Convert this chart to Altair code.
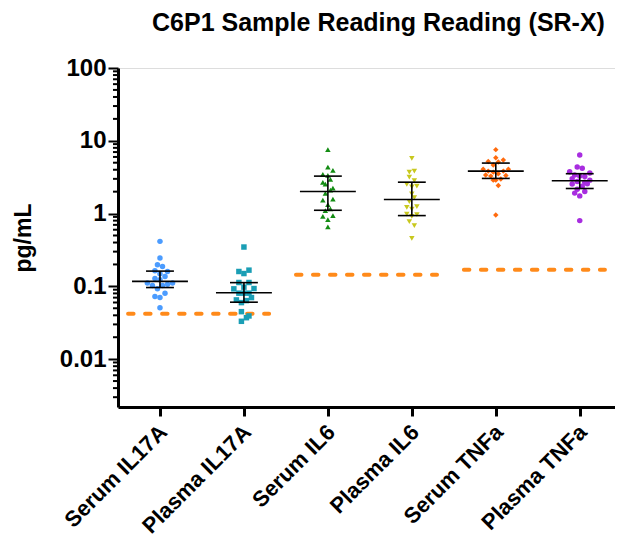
import altair as alt
import pandas as pd

groups = ["Serum IL17A", "Plasma IL17A", "Serum IL6", "Plasma IL6", "Serum TNFa", "Plasma TNFa"]
colors = ["#4b9cff", "#1a9eb5", "#138c13", "#c8c81e", "#ff6a0d", "#a82de0"]
shapes = ["circle", "square", "triangle-up", "triangle-down", "diamond", "circle"]

serum_il17a = [0.415, 0.245, 0.198, 0.1875, 0.164, 0.160, 0.149, 0.137, 0.128, 0.123,
               0.111, 0.1026, 0.1026, 0.107, 0.111, 0.0924, 0.0806, 0.0723, 0.0701, 0.051]
serum_il17a_lane = [0, 0, -1, 1, -2, 3, 0, 2, -2, 0, -5, -3, 1, 3, 5, -1, 2, -2, 0, 0]

plasma_il17a = [0.347, 0.160, 0.150, 0.167, 0.113, 0.113, 0.0924, 0.0975, 0.0933, 0.0806,
                0.0806, 0.0806, 0.0651, 0.0598, 0.0637, 0.0701, 0.0449, 0.0371, 0.0392, 0.0331]
plasma_il17a_lane = [0, -2, 0, 2, -2, 2, -4, 0, 4, -2, 0, 2, -3, -1, 1, 3, -1, 1, 2, -1]

serum_il6 = [7.56, 4.35, 3.92, 3.45, 3.34, 2.94, 2.68, 2.54, 2.23, 2.10,
             1.89, 1.53, 1.58, 1.33, 1.16, 1.10, 0.918, 0.938, 0.826, 0.655]
serum_il6_lane = [0, 0, 2, -2, 0, 1, -2, -1, 2, 1, -1, -2, 2, 0, 1, -1, -2, 2, 0, 0]

plasma_il6 = [5.74, 3.71, 3.83, 3.17, 2.83, 2.51, 2.38, 2.33, 1.87, 1.65,
              1.46, 1.22, 1.25, 1.15, 0.979, 0.969, 0.918, 0.776, 0.683, 0.457]
plasma_il6_lane = [0, -1, 1, -1, 1, -2, 2, 0, 0, 1, -1, -2, 2, 0, -2, 2, 0, -1, 1, 0]

serum_tnfa = [7.56, 5.86, 5.21, 5.43, 5.10, 4.64, 4.05, 3.83, 3.71, 3.53,
              3.83, 4.05, 3.38, 3.27, 3.34, 2.88, 2.88, 2.98, 2.43, 0.959]
serum_tnfa_lane = [0, 0, -3, 3, 1, -1, -5, -3, -1, 1, 3, 5, -4, -2, 4, -1, 0, 2, 1, 0]

plasma_tnfa = [6.38, 4.35, 4.18, 3.76, 3.60, 3.38, 3.27, 3.24, 3.01, 2.88,
               2.76, 2.70, 2.54, 2.57, 2.38, 2.16, 2.01, 1.91, 1.75, 0.80]
plasma_tnfa_lane = [0, -1, 1, -4, 4, -2, 0, 2, -3, 4, -1, 2, -3, 3, 1, -1, 2, -2, 0, 0]

means = [0.117, 0.0815, 2.01, 1.56, 3.83, 2.83]
upper = [0.162, 0.1125, 3.27, 2.70, 4.94, 3.53]
lower = [0.0963, 0.0606, 1.11, 0.938, 3.04, 2.21]

lloq_first_group = [0, 2, 4]
lloq = [0.042, 0.144, 0.169]

major_ticks = [0.01, 0.1, 1, 10, 100]
minor_ticks = [0.003, 0.004, 0.005, 0.006, 0.007, 0.008, 0.009,
               0.02, 0.03, 0.04, 0.05, 0.06, 0.07, 0.08, 0.09,
               0.2, 0.3, 0.4, 0.5, 0.6, 0.7, 0.8, 0.9,
               2, 3, 4, 5, 6, 7, 8, 9,
               20, 30, 40, 50, 60, 70, 80, 90]

series = [(serum_il17a, serum_il17a_lane), (plasma_il17a, plasma_il17a_lane),
          (serum_il6, serum_il6_lane), (plasma_il6, plasma_il6_lane),
          (serum_tnfa, serum_tnfa_lane), (plasma_tnfa, plasma_tnfa_lane)]

rows = []
for gi, (vals, lanes) in enumerate(series):
    for v, ln in zip(vals, lanes):
        rows.append({"group": groups[gi], "idx": gi, "value": v, "lane": ln})
pts = pd.DataFrame(rows)
stats = pd.DataFrame({"group": groups, "idx": list(range(6)), "mean": means,
                      "upper": upper, "lower": lower})
lq = pd.DataFrame({"start": lloq_first_group, "lloq": lloq})
minor = pd.DataFrame({"v": minor_ticks})

FONT = "Liberation Sans"
label_expr = "[" + ",".join("'%s'" % g for g in groups) + "][datum.value]"

xscale = alt.Scale(domain=[-0.5, 5.42], nice=False, zero=False)
xaxis = alt.Axis(values=list(range(6)), labelExpr=label_expr, title=None, grid=False,
                 labelAngle=-45, labelFont=FONT, labelFontSize=22, labelFontWeight="bold",
                 labelColor="black", domainColor="black", domainWidth=3, tickColor="black",
                 tickWidth=3, tickSize=9, labelPadding=5, labelOffset=-4, labelOverlap=False)
yscale = alt.Scale(type="log", domain=[0.0022, 100], nice=False)
yaxis = alt.Axis(values=major_ticks, format="~g", title="pg/mL", grid=False,
                 labelFont=FONT, labelFontSize=24, labelFontWeight="bold", labelColor="black",
                 titleFont=FONT, titleFontSize=23, titleFontWeight="bold", titleColor="black",
                 titlePadding=24, domainColor="black", domainWidth=3, tickColor="black",
                 tickWidth=2, tickSize=10, labelPadding=2)

points = alt.Chart(pts).transform_calculate(
    xpos="datum.idx + datum.lane * 0.0300"
).mark_point(filled=True, opacity=1, size=30).encode(
    x=alt.X("xpos:Q", scale=xscale, axis=xaxis),
    y=alt.Y("value:Q", scale=yscale, axis=yaxis),
    color=alt.Color("group:N", scale=alt.Scale(domain=groups, range=colors), legend=None),
    shape=alt.Shape("group:N", scale=alt.Scale(domain=groups, range=shapes), legend=None),
)

mean_line = alt.Chart(stats).transform_calculate(
    a="datum.idx - 0.333", b="datum.idx + 0.333"
).mark_rule(color="black", strokeWidth=1.6).encode(
    x=alt.X("a:Q", scale=xscale, axis=xaxis), x2="b:Q",
    y=alt.Y("mean:Q", scale=yscale, axis=yaxis),
)
caps_hi = alt.Chart(stats).transform_calculate(
    a="datum.idx - 0.166", b="datum.idx + 0.166"
).mark_rule(color="black", strokeWidth=1.6).encode(
    x=alt.X("a:Q", scale=xscale, axis=xaxis), x2="b:Q",
    y=alt.Y("upper:Q", scale=yscale, axis=yaxis),
)
caps_lo = alt.Chart(stats).transform_calculate(
    a="datum.idx - 0.166", b="datum.idx + 0.166"
).mark_rule(color="black", strokeWidth=1.6).encode(
    x=alt.X("a:Q", scale=xscale, axis=xaxis), x2="b:Q",
    y=alt.Y("lower:Q", scale=yscale, axis=yaxis),
)
vbar = alt.Chart(stats).mark_rule(color="black", strokeWidth=1.6).encode(
    x=alt.X("idx:Q", scale=xscale, axis=xaxis),
    y=alt.Y("lower:Q", scale=yscale, axis=yaxis), y2="upper:Q",
)

lloq_lines = alt.Chart(lq).transform_calculate(
    a="datum.start - 0.38", b="datum.start + 1.30"
).mark_rule(color="#ff8a1a", strokeWidth=4, strokeDash=[5.5, 11.5], strokeCap="round").encode(
    x=alt.X("a:Q", scale=xscale, axis=xaxis), x2="b:Q",
    y=alt.Y("lloq:Q", scale=yscale, axis=yaxis),
)

minor_ticks_layer = alt.Chart(minor).mark_rule(color="black", strokeWidth=2).encode(
    x=alt.value(0), x2=alt.value(-5),
    y=alt.Y("v:Q", scale=yscale, axis=yaxis),
)

chart = alt.layer(
    lloq_lines, points, vbar, mean_line, caps_hi, caps_lo, minor_ticks_layer
).properties(
    width=497, height=339,
    title=alt.TitleParams("C6P1 Sample Reading Reading (SR-X)", font=FONT, fontSize=25,
                          fontWeight="bold", color="black", anchor="middle", dx=12, offset=20),
    autosize=alt.AutoSizeParams(type="none"),
    padding={"left": 110, "right": 0, "top": 60, "bottom": 133},
).configure_view(stroke=None).configure(background="white")

chart.save("out.html", embed_options={"renderer": "svg", "actions": False})
